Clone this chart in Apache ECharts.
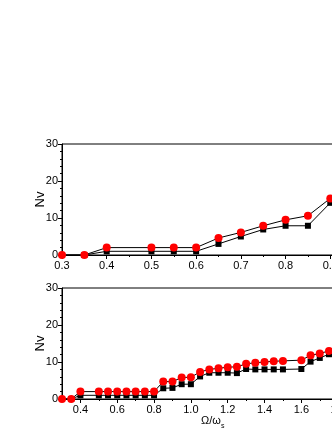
<!DOCTYPE html>
<html><head><meta charset="utf-8">
<script src="https://cdn.jsdelivr.net/npm/echarts@6/dist/echarts.min.js"></script>
<style>html,body{margin:0;padding:0;background:#fff}#c{width:332px;height:430px}</style>
</head><body><div id="c"></div>
<script>
// Top panel data
var topX     = [0.3, 0.35, 0.4, 0.5, 0.55, 0.6, 0.65, 0.7, 0.75, 0.8, 0.85, 0.9, 0.95];
var topBlack = [0,   0,    1,   1,   1,    1,   3,    5,   6.9,  7.9, 7.9,  14.1, 22];
var topRed   = [0,   0,    2,   2,   2,    2,   4.6,  6.1, 7.9,  9.5, 10.6, 15.3, 24];
// Bottom panel data
var botX     = [0.3, 0.35, 0.4, 0.5, 0.55, 0.6, 0.65, 0.7, 0.75, 0.8, 0.85, 0.9, 0.95, 1.0, 1.05, 1.1, 1.15, 1.2, 1.25, 1.3, 1.35, 1.4, 1.45, 1.5, 1.6, 1.65, 1.7, 1.75, 1.8];
var botBlack = [0,   0,    1,   1,   1,    1,   1,    1,   1,    1,   2.9,  3,   4,    4,   6.1,  7.1, 7.1,  7.1, 7,    8.1, 8,    8,   8,    8,   8.1, 10.1, 11.1, 12.1, 12.6];
var botRed   = [0,   0,    2,   2,   2,    2,   2,    2,   2,    2,   4.7,  4.7, 5.8,  5.9, 7.3,  8.0, 8.3,  8.6, 8.7,  9.5, 9.8,  10,  10.2, 10.3, 10.5, 11.8, 12.3, 13.0, 13.4];
// Tick labels
var topXMajor = [0.3,0.4,0.5,0.6,0.7,0.8,0.9,1.0];
var botXMajor = [0.4,0.6,0.8,1.0,1.2,1.4,1.6,1.8,2.0];
var botXMinor = [0.3,0.5,0.7,0.9,1.1,1.3,1.5,1.7,1.9];
var yTicks = [0,10,20,30];

function pairs(xs, ys){ return xs.map(function(x,i){return [x, ys[i]];}); }

var font = 'Liberation Sans, Arial, sans-serif';
var lineCol = '#000';
var labelStyle = {color:'#000', fontFamily:font, fontSize:11};

function yAxis(g){
  return {type:'value', gridIndex:g, min:0, max:30, interval:10,
    name:'Nv', nameLocation:'middle', nameGap:15, nameRotate:90, nameMoveOverlap:false,
    nameTextStyle:{color:'#000', fontFamily:font, fontSize:13},
    axisLine:{show:true, lineStyle:{color:lineCol, width:1}},
    axisTick:{show:true, inside:false, length:4, lineStyle:{color:lineCol}},
    minorTick:{show:true, splitNumber:5, length:2, lineStyle:{color:lineCol}},
    axisLabel:Object.assign({margin:4}, labelStyle),
    splitLine:{show:false}};
}

var option = {
  animation:false,
  backgroundColor:'#fff',
  grid:[
    {left:62, width:313, top:144, height:111, outerBoundsMode:'none', containLabel:false, show:true, borderColor:lineCol, borderWidth:1, backgroundColor:'transparent'},
    {left:62, width:313, top:288, height:111, outerBoundsMode:'none', containLabel:false, show:true, borderColor:lineCol, borderWidth:1, backgroundColor:'transparent'}
  ],
  xAxis:[
    {type:'value', gridIndex:0, min:0.3, max:1.0, interval:0.1,
      axisLine:{show:true, onZero:false, lineStyle:{color:lineCol}},
      axisTick:{show:true, length:4, lineStyle:{color:lineCol}},
      minorTick:{show:true, splitNumber:2, length:2, lineStyle:{color:lineCol}},
      axisLabel:Object.assign({margin:5, customValues:topXMajor, formatter:function(v){return v.toFixed(1);}}, labelStyle),
      splitLine:{show:false}},
    {type:'value', gridIndex:1, min:0.3, max:2.0,
      axisLine:{show:true, onZero:false, lineStyle:{color:lineCol}},
      axisTick:{show:true, length:4, customValues:botXMajor, lineStyle:{color:lineCol}},
      axisLabel:Object.assign({margin:5, customValues:botXMajor, formatter:function(v){return v.toFixed(1);}}, labelStyle),
      splitLine:{show:false}},
    {type:'value', gridIndex:1, min:0.3, max:2.0, position:'bottom',
      axisLine:{show:false},
      axisTick:{show:true, length:2, customValues:botXMinor, lineStyle:{color:lineCol}},
      axisLabel:{show:false}, splitLine:{show:false}}
  ],
  yAxis:[yAxis(0), yAxis(1)],
  graphic:[
    {type:'text', left:201, top:415, style:{text:'Ω/ω', fill:'#000', font:'11px ' + font}},
    {type:'text', left:221, top:423, style:{text:'s', fill:'#000', font:'7px ' + font}}
  ],
  series:[
    {type:'line', xAxisIndex:0, yAxisIndex:0, data:pairs(topX, topBlack), symbol:'rect', symbolSize:6,
      lineStyle:{color:'#000', width:1}, itemStyle:{color:'#000'}, z:2},
    {type:'line', xAxisIndex:0, yAxisIndex:0, data:pairs(topX, topRed), symbol:'circle', symbolSize:8,
      lineStyle:{color:'#000', width:1}, itemStyle:{color:'#f00'}, z:3},
    {type:'line', xAxisIndex:1, yAxisIndex:1, data:pairs(botX, botBlack), symbol:'rect', symbolSize:6,
      lineStyle:{color:'#000', width:1}, itemStyle:{color:'#000'}, z:2},
    {type:'line', xAxisIndex:1, yAxisIndex:1, data:pairs(botX, botRed), symbol:'circle', symbolSize:8,
      lineStyle:{color:'#000', width:1}, itemStyle:{color:'#f00'}, z:3}
  ]
};
var chart = echarts.init(document.getElementById('c'), null, {renderer:'canvas'});
chart.setOption(option);
</script></body></html>
